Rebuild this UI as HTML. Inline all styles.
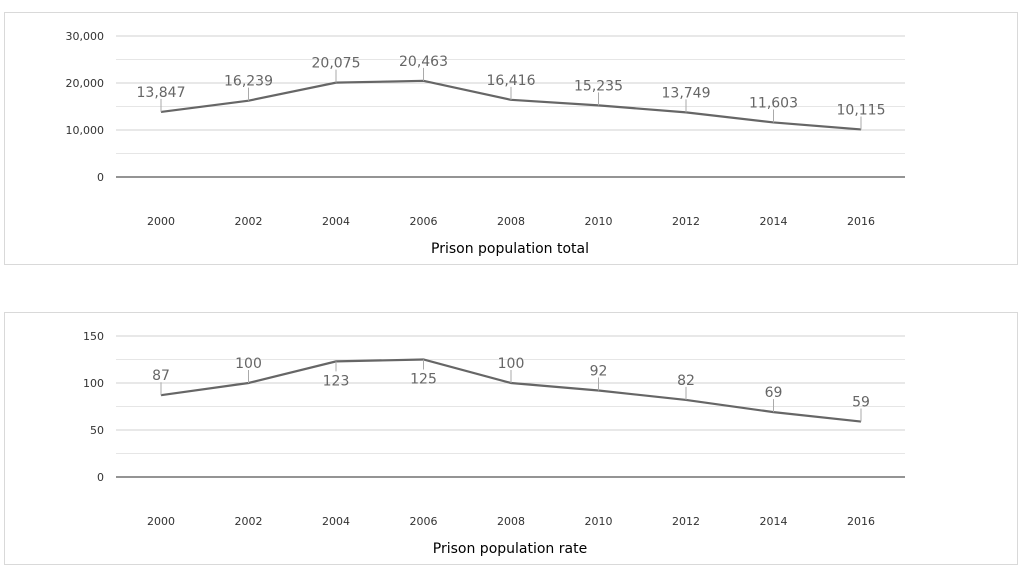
<!DOCTYPE html>
<html><head><meta charset="utf-8"><style>
html,body{margin:0;padding:0;background:#fff;width:1022px;height:571px;overflow:hidden}
svg{display:block;font-family:"DejaVu Sans","Liberation Sans",sans-serif}
</style></head><body>
<svg id="s" width="1022" height="571"></svg>
<script>
const years = ["2000","2002","2004","2006","2008","2010","2012","2014","2016"];
const totalValues = [13847,16239,20075,20463,16416,15235,13749,11603,10115];
const totalLabels = ["13,847","16,239","20,075","20,463","16,416","15,235","13,749","11,603","10,115"];
const totalTicks = [0,10000,20000,30000];
const totalTickLabels = ["0","10,000","20,000","30,000"];
const rateValues = [87,100,123,125,100,92,82,69,59];
const rateLabels = ["87","100","123","125","100","92","82","69","59"];
const rateTicks = [0,50,100,150];
const rateTickLabels = ["0","50","100","150"];
const rateBelow = [false,false,true,true,false,false,false,false,false];

const NS="http://www.w3.org/2000/svg";
const svg=document.getElementById('s');
function mk(tag,attrs,parent){const e=document.createElementNS(NS,tag);for(const k in attrs)e.setAttribute(k,attrs[k]);(parent||svg).appendChild(e);return e;}

function chart(name,top,ticks,tickLabels,vals,labels,below,title){
  const g=mk('g',{});
  
  
  const box=mk('rect',{x:4.5,y:top+0.5,width:1013,height:252,fill:'#fff',stroke:'#d9d9d9'},g);
  
  
  const y0=top+165, yTop=top+24, max=ticks[ticks.length-1];
  const y=v=>y0-(v/max)*(y0-yTop);
  const x=i=>161+i*(861-161)/(years.length-1);
  for(let i=0;i<ticks.length-1;i++){
    const m=(ticks[i]+ticks[i+1])/2;
    const l=mk('line',{x1:116,x2:905,y1:y(m),y2:y(m),stroke:'#e6e6e6'},g);
    
    
  }
  ticks.forEach((t,i)=>{
    const l=mk('line',{x1:116,x2:905,y1:y(t),y2:y(t),stroke:i===0?'#555':'#d0d0d0','stroke-width':i===0?1.3:1},g);
    
    
    const tx=mk('text',{x:104,y:y(t)+4,'text-anchor':'end','font-size':11,fill:'#333'},g);
    tx.textContent=tickLabels[i];
    
    
  });
  years.forEach((yr,i)=>{
    const tx=mk('text',{x:x(i),y:y0+48,'text-anchor':'middle','font-size':11,fill:'#333'},g);
    tx.textContent=yr;
    
    
  });
  const p=mk('polyline',{points:vals.map((v,i)=>x(i)+','+y(v)).join(' '),fill:'none',stroke:'#666','stroke-width':2.2},g);
  
  
  vals.forEach((v,i)=>{
    const py=y(v), b=below&&below[i];
    const ld=mk('line',{x1:x(i),x2:x(i),y1:py,y2:b?py+10:py-13,stroke:'#aaa'},g);
    
    
    const tx=mk('text',{x:x(i),y:b?py+24:py-15,'text-anchor':'middle','font-size':14,fill:'#666'},g);
    tx.textContent=labels[i];
    
    
  });
  const tt=mk('text',{x:510,y:top+241,'text-anchor':'middle','font-size':14,fill:'#000'},g);
  tt.textContent=title;
  
  
}
chart('total-chart',12,totalTicks,totalTickLabels,totalValues,totalLabels,null,'Prison population total');
chart('rate-chart',312,rateTicks,rateTickLabels,rateValues,rateLabels,rateBelow,'Prison population rate');
</script>
</body></html>
